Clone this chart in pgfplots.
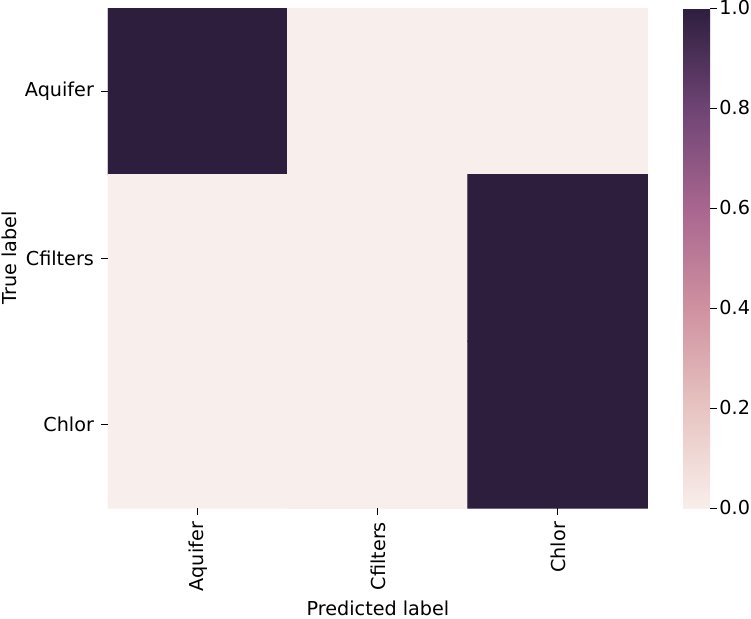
\documentclass[border=0pt]{standalone}
\usepackage{fontspec}
\setmainfont{DejaVu Sans}
\usepackage{pgfplots}
\pgfplotsset{compat=1.18}

\pgfplotsset{
  colormap={cubehelix}{rgb255=(248,238,235) rgb255=(231,196,193) rgb255=(207,145,160)
    rgb255=(168,102,143) rgb255=(110,68,116) rgb255=(45,30,62)},
}

\begin{document}
\begin{tikzpicture}
\useasboundingbox (-54pt,-55pt) rectangle (321.5pt,254pt);
\begin{axis}[
    scale only axis,
    width=270pt, height=250pt,
    at={(0,0)}, anchor=south west,
    xmin=-0.5, xmax=2.5, ymin=-0.5, ymax=2.5,
    y dir=reverse,
    axis line style={draw=none},
    tick align=outside,
    xtick pos=bottom, ytick pos=left,
    tick style={black, line width=0.5pt},
    major tick length=3.5pt,
    xtick={0,1,2}, ytick={0,1,2},
    xticklabels={Aquifer,Cfilters,Chlor},
    yticklabels={Aquifer,Cfilters,Chlor},
    xticklabel style={rotate=90, anchor=east},
    ticklabel style={font=\fontsize{9.6}{11}\selectfont},
    label style={font=\fontsize{9.6}{11}\selectfont},
    xlabel={Predicted label},
    ylabel={True label},
    xlabel style={yshift=2pt},
    ylabel style={yshift=-3pt},
    colormap name=cubehelix,
    point meta min=0, point meta max=1,
    colorbar,
    colorbar style={
        scale only axis,
        at={(parent axis.north east)}, anchor=north west, xshift=9pt,
        width=13.5pt,
        ytick={0,0.2,0.4,0.6,0.8,1.0},
        yticklabels={0.0,0.2,0.4,0.6,0.8,1.0},
        yticklabel style={font=\fontsize{9.6}{11}\selectfont, inner sep=1pt},
        ytick pos=right,
        axis line style={draw=none},
        tick align=outside,
        major tick length=3.5pt,
        tick style={black, line width=0.5pt},
    },
]
\addplot[matrix plot, mesh/cols=3, point meta=explicit,
    draw=mapped color, line width=0.6pt] coordinates {
    (0,0) [1] (1,0) [0] (2,0) [0]

    (0,1) [0] (1,1) [0] (2,1) [1]

    (0,2) [0] (1,2) [0] (2,2) [1]
};
\end{axis}
\end{tikzpicture}
\end{document}
